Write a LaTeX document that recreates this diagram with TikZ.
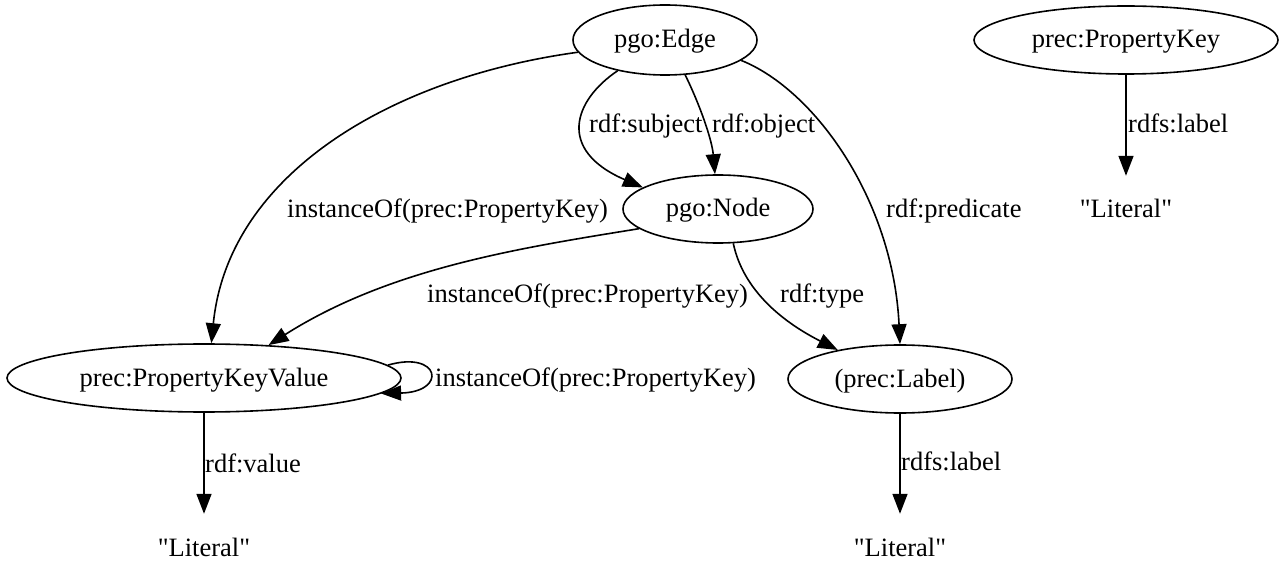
\documentclass[tikz,border=0pt]{standalone}
\usepackage{fontspec}
\setmainfont{Liberation Serif}[Ligatures=TeXOff]
\usetikzlibrary{shapes.geometric,arrows.meta}

\tikzset{
  gv/.style={font=\fontsize{26.5}{30}\selectfont, text height=16pt, text depth=0pt, inner sep=0pt},
  cls/.style={gv, ellipse, draw, line width=1.6pt, minimum height=68pt},
  lit/.style={gv, rectangle, minimum height=68pt, minimum width=100pt},
  lbl/.style={gv, anchor=west},
  rel/.style={line width=1.6pt, -{Triangle[length=20pt,width=15pt]}},
}

\begin{document}
\begin{tikzpicture}[x=1pt,y=-1pt]
  % canvas
  \fill[white] (0,0) rectangle (1280,561);
  \useasboundingbox (0,0) rectangle (1280,561);

  % classes
  \node[cls, minimum width=184pt, minimum height=70pt] (edge) at (665,40) {pgo:Edge};
  \node[cls, minimum width=190pt] (pnode) at (718,209) {pgo:Node};
  \node[cls, minimum width=394pt] (pkv) at (204,378) {prec:PropertyKeyValue};
  \node[cls, minimum width=224pt] (plabel) at (900,379) {(prec:Label)};
  \node[cls, minimum width=304pt] (pkey) at (1126,40) {prec:PropertyKey};

  % literals
  \node[lit] (litv) at (204,548) {"Literal"};
  \node[lit] (litl) at (900,548) {"Literal"};
  \node[lit] (litk) at (1126,210) {"Literal"};

  % edges out of pgo:Edge
  \draw[rel] (edge.188) .. controls (390,78) and (228,175) .. (pkv.78);
  \draw[rel] (edge.213) .. controls (574,100) and (556,150) .. (pnode.164);
  \draw[rel] (edge.300) .. controls (700,105) and (712,140) .. (pnode.95);
  \draw[rel] (edge.345) .. controls (815,90) and (893,200) .. (plabel.90);

  % edges out of pgo:Node
  \draw[rel] (pnode.194) .. controls (520,248) and (390,268) .. (pkv.27);
  \draw[rel] (pnode.294) .. controls (742,285) and (775,318) .. (plabel.155);

  % self loop on prec:PropertyKeyValue
  \draw[rel] (pkv.4) .. controls (440,350) and (448,392) .. (pkv.-5);

  % literal values
  \draw[rel] (pkv.south) -- (litv.north);
  \draw[rel] (plabel.south) -- (litl.north);
  \draw[rel] (pkey.south) -- (litk.north);

  % edge labels
  \node[lbl] (t1) at (287,210) {instanceOf(prec:PropertyKey)};
  \node[lbl] (t2) at (589,125) {rdf:subject};
  \node[lbl] (t3) at (712,125) {rdf:object};
  \node[lbl] (t4) at (886,210) {rdf:predicate};
  \node[lbl] (t5) at (427,295) {instanceOf(prec:PropertyKey)};
  \node[lbl] (t6) at (780,295) {rdf:type};
  \node[lbl] (t7) at (435,378) {instanceOf(prec:PropertyKey)};
  \node[lbl] (t8) at (205,464) {rdf:value};
  \node[lbl] (t9) at (901,462) {rdfs:label};
  \node[lbl] (t10) at (1128,125) {rdfs:label};
\end{tikzpicture}
\end{document}
